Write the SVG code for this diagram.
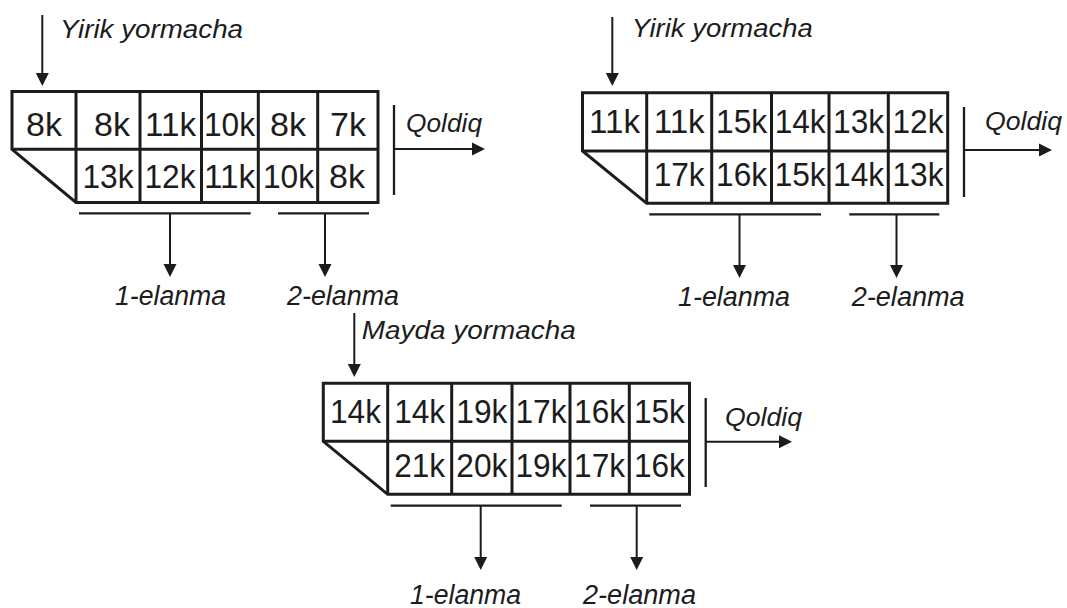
<svg xmlns="http://www.w3.org/2000/svg" width="1067" height="608" viewBox="0 0 1067 608">
<style>
.box{fill:none;stroke:#1c1c1c;stroke-width:3;stroke-linejoin:miter}
.grid{fill:none;stroke:#1c1c1c;stroke-width:3}
.num{font-family:"Liberation Sans",Arial,sans-serif;font-size:34px;fill:#1c1c1c;text-anchor:middle}
.lbl{font-family:"Liberation Sans",Arial,sans-serif;font-style:italic;fill:#1c1c1c}
.conn{fill:none;stroke:#1c1c1c;stroke-width:2}
.bar{fill:none;stroke:#1c1c1c;stroke-width:2.3}
</style>
<defs>
<marker id="ah" markerUnits="userSpaceOnUse" markerWidth="13" markerHeight="14" refX="9" refY="6.5" orient="auto" viewBox="0 0 13 13">
<path d="M0,0 L13,6.5 L0,13 Z" fill="#1c1c1c"/>
</marker>
</defs>
<rect width="1067" height="608" fill="#ffffff"/>

<!-- Diagram 1 -->
<g id="box1">
<path class="box" d="M12,91.5 H378 V202.5 H76 L12,149.3 Z"/>
<path class="grid" d="M12,149.3 H378 M76,91.5 V202.5 M140,91.5 V202.5 M201.5,91.5 V202.5 M258.3,91.5 V202.5 M317.7,91.5 V202.5"/>
<text class="num" x="44" y="136">8k</text>
<text class="num" x="112" y="136">8k</text>
<text class="num" x="170.5" y="136" textLength="51" lengthAdjust="spacingAndGlyphs">11k</text>
<text class="num" x="229.5" y="136" textLength="51" lengthAdjust="spacingAndGlyphs">10k</text>
<text class="num" x="288" y="136">8k</text>
<text class="num" x="348" y="136">7k</text>
<text class="num" x="108" y="187.5" textLength="51" lengthAdjust="spacingAndGlyphs">13k</text>
<text class="num" x="170" y="187.5" textLength="51" lengthAdjust="spacingAndGlyphs">12k</text>
<text class="num" x="229.5" y="187.5" textLength="51" lengthAdjust="spacingAndGlyphs">11k</text>
<text class="num" x="288.5" y="187.5" textLength="51" lengthAdjust="spacingAndGlyphs">10k</text>
<text class="num" x="347" y="187.5">8k</text>
</g>
<g id="in1"><text class="lbl" x="60" y="38" font-size="25" textLength="183" lengthAdjust="spacingAndGlyphs">Yirik yormacha</text></g>
<g id="out1"><text class="lbl" x="406" y="131.7" font-size="25" textLength="76" lengthAdjust="spacingAndGlyphs">Qoldiq</text></g>
<g id="e1a"><text class="lbl" x="115" y="305" font-size="27" textLength="111" lengthAdjust="spacingAndGlyphs">1-elanma</text></g>
<g id="e1b"><text class="lbl" x="287" y="305" font-size="27" textLength="112" lengthAdjust="spacingAndGlyphs">2-elanma</text></g>

<!-- Diagram 2 -->
<g id="box2">
<path class="box" d="M582.5,92.7 H947.7 V203.3 H646.7 L582.5,151 Z"/>
<path class="grid" d="M582.5,151 H947.7 M646.7,92.7 V203.3 M711.7,92.7 V203.3 M771.5,92.7 V203.3 M829,92.7 V203.3 M888.3,92.7 V203.3"/>
<text class="num" x="614.6" y="132.7" textLength="51" lengthAdjust="spacingAndGlyphs">11k</text>
<text class="num" x="679.2" y="132.7" textLength="51" lengthAdjust="spacingAndGlyphs">11k</text>
<text class="num" x="741.6" y="132.7" textLength="51" lengthAdjust="spacingAndGlyphs">15k</text>
<text class="num" x="800.2" y="132.7" textLength="51" lengthAdjust="spacingAndGlyphs">14k</text>
<text class="num" x="858.6" y="132.7" textLength="51" lengthAdjust="spacingAndGlyphs">13k</text>
<text class="num" x="918" y="132.7" textLength="51" lengthAdjust="spacingAndGlyphs">12k</text>
<text class="num" x="679.2" y="186" textLength="51" lengthAdjust="spacingAndGlyphs">17k</text>
<text class="num" x="741.6" y="186" textLength="51" lengthAdjust="spacingAndGlyphs">16k</text>
<text class="num" x="800.2" y="186" textLength="51" lengthAdjust="spacingAndGlyphs">15k</text>
<text class="num" x="858.6" y="186" textLength="51" lengthAdjust="spacingAndGlyphs">14k</text>
<text class="num" x="918" y="186" textLength="51" lengthAdjust="spacingAndGlyphs">13k</text>
</g>
<g id="in2"><text class="lbl" x="631.7" y="37" font-size="25" textLength="181" lengthAdjust="spacingAndGlyphs">Yirik yormacha</text></g>
<g id="out2"><text class="lbl" x="985" y="130" font-size="25" textLength="77" lengthAdjust="spacingAndGlyphs">Qoldiq</text></g>
<g id="e2a"><text class="lbl" x="678" y="306" font-size="27" textLength="112" lengthAdjust="spacingAndGlyphs">1-elanma</text></g>
<g id="e2b"><text class="lbl" x="851.7" y="306" font-size="27" textLength="113" lengthAdjust="spacingAndGlyphs">2-elanma</text></g>

<!-- Diagram 3 -->
<g id="box3">
<path class="box" d="M323.3,383.3 H689.5 V494.3 H387.7 L323.3,441.3 Z"/>
<path class="grid" d="M323.3,441.3 H689.5 M387.7,383.3 V494.3 M451.7,383.3 V494.3 M512,383.3 V494.3 M570,383.3 V494.3 M629.3,383.3 V494.3"/>
<text class="num" x="355.5" y="423.3" textLength="51" lengthAdjust="spacingAndGlyphs">14k</text>
<text class="num" x="419.7" y="423.3" textLength="51" lengthAdjust="spacingAndGlyphs">14k</text>
<text class="num" x="481.8" y="423.3" textLength="51" lengthAdjust="spacingAndGlyphs">19k</text>
<text class="num" x="541" y="423.3" textLength="51" lengthAdjust="spacingAndGlyphs">17k</text>
<text class="num" x="599.6" y="423.3" textLength="51" lengthAdjust="spacingAndGlyphs">16k</text>
<text class="num" x="659.4" y="423.3" textLength="51" lengthAdjust="spacingAndGlyphs">15k</text>
<text class="num" x="419.7" y="476.7" textLength="51" lengthAdjust="spacingAndGlyphs">21k</text>
<text class="num" x="481.8" y="476.7" textLength="51" lengthAdjust="spacingAndGlyphs">20k</text>
<text class="num" x="541" y="476.7" textLength="51" lengthAdjust="spacingAndGlyphs">19k</text>
<text class="num" x="599.6" y="476.7" textLength="51" lengthAdjust="spacingAndGlyphs">17k</text>
<text class="num" x="659.4" y="476.7" textLength="51" lengthAdjust="spacingAndGlyphs">16k</text>
</g>
<g id="in3"><text class="lbl" x="361.7" y="339" font-size="25" textLength="214" lengthAdjust="spacingAndGlyphs">Mayda yormacha</text></g>
<g id="out3"><text class="lbl" x="725" y="426" font-size="25" textLength="77" lengthAdjust="spacingAndGlyphs">Qoldiq</text></g>
<g id="e3a"><text class="lbl" x="410" y="604" font-size="27" textLength="111" lengthAdjust="spacingAndGlyphs">1-elanma</text></g>
<g id="e3b"><text class="lbl" x="583" y="604" font-size="27" textLength="113" lengthAdjust="spacingAndGlyphs">2-elanma</text></g>

<!-- Connectors -->
<g id="connectors">
<!-- diagram 1 -->
<line class="conn" x1="42.3" y1="15" x2="42.3" y2="82" marker-end="url(#ah)"/>
<line class="bar" x1="394" y1="105" x2="394" y2="195"/>
<line class="conn" x1="394" y1="149" x2="481" y2="149" marker-end="url(#ah)"/>
<line class="bar" x1="79" y1="213.3" x2="250.7" y2="213.3"/>
<line class="bar" x1="278" y1="213.3" x2="369" y2="213.3"/>
<line class="conn" x1="170" y1="213.3" x2="170" y2="273" marker-end="url(#ah)"/>
<line class="conn" x1="325" y1="213.3" x2="325" y2="273" marker-end="url(#ah)"/>
<!-- diagram 2 -->
<line class="conn" x1="612.3" y1="17" x2="612.3" y2="82" marker-end="url(#ah)"/>
<line class="bar" x1="964" y1="107" x2="964" y2="197"/>
<line class="conn" x1="964" y1="150" x2="1048" y2="150" marker-end="url(#ah)"/>
<line class="bar" x1="649.3" y1="214.3" x2="821" y2="214.3"/>
<line class="bar" x1="849.3" y1="214.3" x2="939.3" y2="214.3"/>
<line class="conn" x1="739.5" y1="214.3" x2="739.5" y2="274" marker-end="url(#ah)"/>
<line class="conn" x1="896.5" y1="214.3" x2="896.5" y2="274" marker-end="url(#ah)"/>
<!-- diagram 3 -->
<line class="conn" x1="354.3" y1="313" x2="354.3" y2="373" marker-end="url(#ah)"/>
<line class="bar" x1="705.7" y1="398" x2="705.7" y2="487"/>
<line class="conn" x1="705.7" y1="441.7" x2="788" y2="441.7" marker-end="url(#ah)"/>
<line class="bar" x1="390.7" y1="505.7" x2="561.7" y2="505.7"/>
<line class="bar" x1="590" y1="505.7" x2="681" y2="505.7"/>
<line class="conn" x1="480.7" y1="505.7" x2="480.7" y2="566" marker-end="url(#ah)"/>
<line class="conn" x1="636.7" y1="505.7" x2="636.7" y2="566" marker-end="url(#ah)"/>
</g>
</svg>
